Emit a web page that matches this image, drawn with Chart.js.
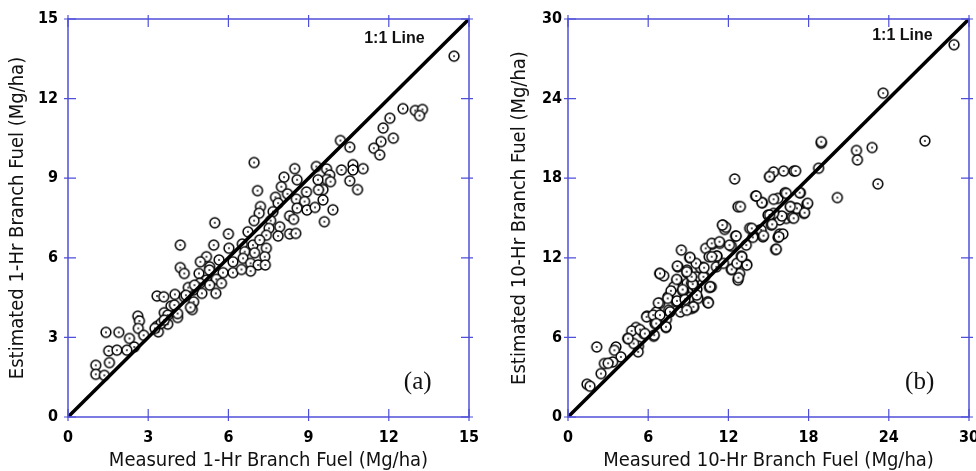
<!DOCTYPE html>
<html>
<head>
<meta charset="utf-8">
<script src="https://cdn.jsdelivr.net/npm/chart.js@4.4.1/dist/chart.umd.min.js"></script>
<style>
  html, body { margin: 0; padding: 0; background: #fff; }
  #wrap { position: relative; width: 976px; height: 471px; }
  .panel { position: absolute; top: 0; width: 488px; height: 471px; }
</style>
</head>
<body>
<div id="wrap">
  <div class="panel" style="left:0"><canvas id="chartA"></canvas></div>
  <div class="panel" style="left:488px"><canvas id="chartB"></canvas></div>
</div>
<script>
// measured vs estimated
const oneHrPoints = [
  [14.44,13.6],[12.53,11.62],[12.99,11.55],[13.26,11.59],[13.15,11.36],[12.04,11.26],[11.79,10.89],
  [12.17,10.51],[11.71,10.38],[10.19,10.42],[11.44,10.13],[11.66,9.88],[10.54,10.17],[10.66,9.51],
  [11.04,9.36],[10.23,9.31],[10.66,9.31],[10.54,8.9],[10.83,8.57],[9.67,9.35],[9.79,9.12],[9.67,8.95],
  [9.82,8.87],[9.54,8.57],[9.54,8.18],[9.91,7.81],[9.59,7.36],
  [6.96,9.59],[8.48,9.36],[9.29,9.44],[8.08,9.04],[8.57,8.94],[9.35,8.94],[7.98,8.68],[7.09,8.53],
  [7.76,8.28],[8.21,8.41],[8.92,8.48],[9.37,8.56],[7.2,7.93],[7.86,8.06],[8.54,8.21],[8.85,8.12],
  [8.57,7.87],[8.94,7.8],[9.24,7.9],[7.67,7.74],[7.15,7.68],[8.29,7.58],[8.44,7.45],[6.96,7.4],
  [7.58,7.4],[7.92,7.17],[7.52,7.11],[5.49,7.32],[6.0,6.9],[6.73,6.98],[7.42,6.85],[7.86,6.82],
  [8.29,6.9],[8.52,6.92],[5.45,6.48],[6.02,6.36],[6.52,6.52],[6.92,6.48],[7.17,6.67],[7.42,6.36],
  [6.61,6.23],[6.98,6.19],[7.36,6.04],[5.18,6.04],[5.65,5.92],[6.17,5.85],[6.55,5.98],[6.83,5.79],
  [7.11,5.73],[7.38,5.73],[6.83,5.5],[4.9,5.41],[5.3,5.66],[5.8,5.44],[6.17,5.44],[6.49,5.56],
  [5.18,5.16],[5.55,5.19],[5.74,5.04],[5.3,4.97],[4.93,5.04],[5.01,4.66],[5.53,4.66],[4.68,4.78],
  [4.7,4.34],[4.65,4.05],
  [4.2,6.48],[4.2,5.63],[4.35,5.41],[4.5,4.88],[4.58,4.13],[3.33,4.56],[3.58,4.53],[4.0,4.62],
  [3.85,4.18],[4.35,4.53],[3.6,3.93],[4.1,3.75],[3.33,3.42],[3.38,3.21],[3.73,3.5],[2.61,3.8],
  [2.67,3.62],[2.63,3.34],[2.83,3.08],[1.42,3.19],[1.9,3.19],[2.3,2.96],[2.48,2.64],[1.52,2.49],
  [1.83,2.52],[2.2,2.52],[1.55,2.05],[1.04,1.95],[1.04,1.61],[1.36,1.57],
  [4.95,5.85],[5.29,5.54],[4.73,4.97],[4.41,4.59],[3.98,4.22],[3.73,3.84],[3.48,3.53],[3.25,3.34],
  [3.6,3.65],[4.1,3.9]
];

const tenHrPoints = [
  [28.88,28.06],[23.58,24.41],[18.95,20.64],[18.95,20.75],[26.7,20.81],[21.58,20.09],[22.75,20.31],
  [21.65,19.38],[23.18,17.57],[18.75,18.75],[20.15,16.54],
  [12.47,17.94],[15.09,18.11],[15.38,18.47],[16.13,18.54],[16.9,18.54],
  [14.04,16.66],[14.54,16.15],[15.71,16.48],[16.23,16.9],[17.38,16.9],[17.88,16.05],[12.71,15.85],
  [12.9,15.86],[16.66,15.85],[17.08,15.73],[17.65,15.35],[14.96,15.22],[15.59,15.22],[16.33,14.97],
  [16.78,15.05],[15.83,14.85],[15.21,14.47],[13.59,14.22],[14.34,14.09],[14.58,13.58],[13.83,13.54],
  [15.83,13.79],[15.71,13.54],[15.53,12.63],
  [11.59,14.47],[11.72,14.14],[11.8,14.3],[12.54,13.64],[13.34,12.96],[12.22,12.88],[11.35,13.09],
  [10.8,13.03],[10.3,12.71],[10.75,13.09],[8.48,12.58],[9.1,12.0],[10.55,12.08],[11.14,12.13],
  [12.97,12.13],[13.34,11.52],[12.64,11.52],[12.84,10.82],[12.71,10.32],[12.75,10.5],[12.22,11.12],
  [11.1,11.32],[10.1,11.27],[8.9,11.07],[8.22,11.32],[6.86,10.82],[7.16,10.64],[8.15,10.32],
  [8.9,10.07],[9.6,10.57],[10.22,10.57],[10.72,9.81],[9.41,9.94],[8.66,9.43],[7.91,9.81],[7.48,9.06],
  [8.1,8.68],[9.1,9.01],[9.72,8.94],[10.47,8.63],[9.23,8.18],[8.41,7.92],[6.86,8.56],[6.61,7.92],
  [7.61,7.92],[6.61,7.09],[7.36,7.35],
  [9.9,11.27],[8.9,10.87],[9.25,10.11],[10.58,9.77],[8.58,9.51],[7.7,9.51],[9.65,9.62],[7.46,8.94],
  [8.15,8.75],[6.76,8.6],[8.9,8.3],[9.4,8.26],[10.45,8.68],[7.53,8.05],[5.91,7.6],[6.66,7.5],
  [6.5,7.05],[7.33,6.75],[5.09,6.75],[5.66,6.29],[4.76,6.49],[6.41,6.09],[4.47,5.92],[5.27,5.34],
  [4.91,5.54],[3.59,5.28],[3.47,5.03],[2.15,5.28],[3.96,4.53],[3.34,4.15],[2.72,4.03],[3.0,4.05],
  [2.47,3.27],[1.42,2.47],[1.65,2.32],[5.25,4.91],[6.45,6.17],[5.88,7.55],[6.38,7.68],[6.88,7.68],
  [7.63,7.93],[5.38,6.59],[5.75,6.29],[4.5,5.91],[6.6,7.05],[7.33,6.8],[8.75,8.86],[9.63,9.19],
  [10.5,8.61],[9.38,8.31],[8.88,8.05],[10.63,9.82],[9.33,10.02],[8.58,9.61],[10.13,10.57],[9.25,10.57],
  [8.13,10.37],[6.88,10.82],[8.18,11.38],[8.88,10.95],[9.58,11.58],[10.18,11.25],[11.63,11.58],
  [12.25,11.13],[12.63,11.58],[13.38,11.45],[13.0,12.08],[11.13,12.13],[10.75,12.08],[9.13,12.03],
  [11.33,13.21],[12.08,12.96],[12.58,13.64],[11.55,14.47],[14.45,14.1],[13.75,14.22],[14.63,13.67],
  [16.0,15.15],[15.38,15.35],[15.08,15.23],[15.28,14.52],[16.88,14.98],[17.13,15.73],[16.63,15.86],
  [17.7,15.4],[17.93,16.11],[17.33,16.91],[16.33,16.86],[15.38,16.41],[14.5,16.16],[14.08,16.66],
  [15.08,18.12],[17.03,18.55],[16.08,13.79],[15.78,13.59],[15.58,12.64]
];

const oneHrTicks = [0, 3, 6, 9, 12, 15];
const tenHrTicks = [0, 6, 12, 18, 24, 30];

const BLUE = "#4f4fd9";
const FAMILY = "'DejaVu Sans Condensed', 'DejaVu Sans', sans-serif";
const tickFont = { family: FAMILY, size: 16, weight: "bold" };
const titleFont = { family: FAMILY, size: 20, lineHeight: 1 };

// open circle with a dot in the middle
function makeMarker() {
  const c = document.createElement("canvas");
  c.width = 14;
  c.height = 14;
  const g = c.getContext("2d");
  g.beginPath();
  g.arc(7, 7, 4.9, 0, Math.PI * 2);
  g.fillStyle = "#fff";
  g.fill();
  g.lineWidth = 1.5;
  g.strokeStyle = "#000";
  g.stroke();
  g.beginPath();
  g.arc(7, 7, 0.9, 0, Math.PI * 2);
  g.fillStyle = "#000";
  g.fill();
  return c;
}
const marker = makeMarker();

// blue frame with ticks crossing all four sides, plus the panel labels
const frameTicks = {
  id: "frameTicks",
  afterDraw(chart, args, opts) {
    const { ctx, chartArea: a, scales } = chart;
    ctx.save();
    ctx.strokeStyle = BLUE;
    ctx.lineWidth = 1.5;
    ctx.strokeRect(a.left, a.top, a.right - a.left, a.bottom - a.top);
    ctx.lineWidth = 1.2;
    ctx.beginPath();
    opts.ticks.forEach((t) => {
      const x = scales.x.getPixelForValue(t);
      const y = scales.y.getPixelForValue(t);
      ctx.moveTo(x, a.bottom + 4); ctx.lineTo(x, a.bottom - 8);
      ctx.moveTo(x, a.top - 4); ctx.lineTo(x, a.top + 8);
      ctx.moveTo(a.left - 4, y); ctx.lineTo(a.left + 8, y);
      ctx.moveTo(a.right + 4, y); ctx.lineTo(a.right - 8, y);
    });
    ctx.stroke();

    ctx.fillStyle = "#111";
    ctx.textBaseline = "middle";
    ctx.textAlign = "right";
    ctx.font = "bold 16px 'Liberation Sans'";
    ctx.fillText("1:1 Line", scales.x.getPixelForValue(opts.lineLabel[0]), scales.y.getPixelForValue(opts.lineLabel[1]));
    ctx.font = "25px 'Liberation Serif'";
    ctx.fillText(opts.letter, scales.x.getPixelForValue(opts.letterAt[0]), scales.y.getPixelForValue(opts.letterAt[1]));
    ctx.restore();
  },
};

function makeChart(id, points, ticks, xTitle, yTitle, layout) {
  const max = ticks[ticks.length - 1];
  const step = ticks[1] - ticks[0];
  new Chart(document.getElementById(id), {
    type: "scatter",
    data: {
      datasets: [
        {
          type: "line",
          data: [{ x: 0, y: 0 }, { x: max, y: max }],
          borderColor: "#000",
          borderWidth: 3.5,
          pointRadius: 0,
        },
        {
          data: points.map((p) => ({ x: p[0], y: p[1] })),
          pointStyle: marker,
          pointRadius: 5,
        },
      ],
    },
    options: {
      responsive: true,
      maintainAspectRatio: false,
      animation: false,
      layout: { padding: { left: 0, right: layout.right, top: 19, bottom: 0 } },
      plugins: {
        legend: { display: false },
        tooltip: { enabled: false },
        frameTicks: { ticks: ticks, lineLabel: layout.lineLabel, letter: layout.letter, letterAt: layout.letterAt },
      },
      scales: {
        x: {
          type: "linear",
          min: 0,
          max: max,
          grid: { display: false, drawTicks: false },
          border: { display: false },
          ticks: { stepSize: step, padding: 11, color: "#000", font: tickFont, maxRotation: 0 },
          title: { display: true, text: xTitle, color: "#111", font: titleFont, padding: { top: 0, bottom: 0 } },
          afterFit: (s) => { s.height = 54; s.paddingLeft = 0; s.paddingRight = 0; },
        },
        y: {
          type: "linear",
          min: 0,
          max: max,
          grid: { display: false, drawTicks: false },
          border: { display: false },
          ticks: { stepSize: step, padding: layout.yPad, color: "#000", font: tickFont },
          title: { display: true, text: yTitle, color: "#111", font: titleFont, padding: { top: layout.titlePad, bottom: 0 } },
          afterFit: (s) => { s.width = layout.yWidth; s.paddingTop = 0; s.paddingBottom = 0; },
        },
      },
    },
    plugins: [frameTicks],
  });
}

makeChart("chartA", oneHrPoints, oneHrTicks,
  "Measured 1-Hr Branch Fuel (Mg/ha)", "Estimated 1-Hr Branch Fuel (Mg/ha)",
  { right: 19, yWidth: 68, yPad: 10, titlePad: 8, lineLabel: [13.34, 14.26], letter: "(a)", letterAt: [13.6, 1.31] });

makeChart("chartB", tenHrPoints, tenHrTicks,
  "Measured 10-Hr Branch Fuel (Mg/ha)", "Estimated 10-Hr Branch Fuel (Mg/ha)",
  { right: 7, yWidth: 80, yPad: 6, titlePad: 22, lineLabel: [27.28, 28.73], letter: "(b)", letterAt: [27.4, 2.62] });
</script>
</body>
</html>
